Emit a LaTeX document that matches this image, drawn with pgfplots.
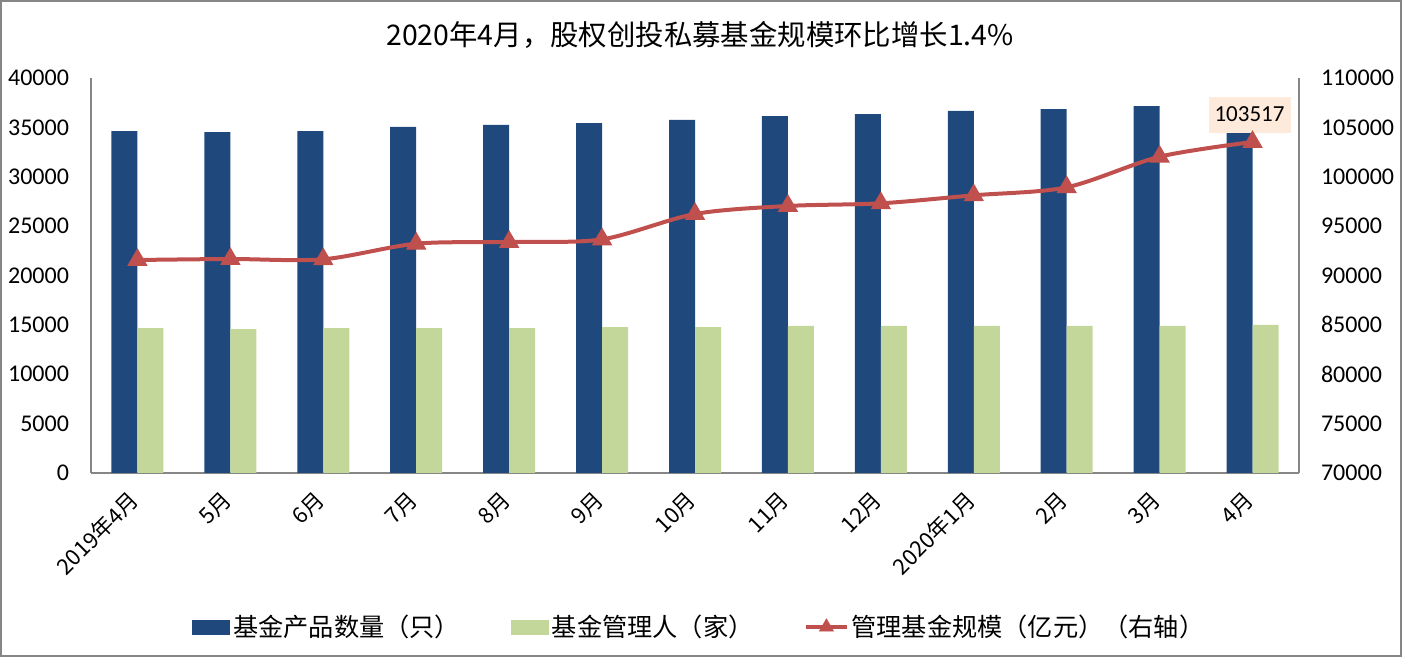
\documentclass[border=0pt]{standalone}
\usepackage{pgfplots}
\pgfplotsset{compat=1.18}
\usepackage{fontspec}
\setmainfont{Carlito}
\newfontfamily\cjk{Noto Sans CJK SC}
\definecolor{barblue}{RGB}{31,73,125}
\definecolor{bargreen}{RGB}{196,215,155}
\definecolor{linered}{RGB}{192,80,77}
\definecolor{peach}{RGB}{253,234,218}
\definecolor{axgray}{RGB}{134,134,134}

\pgfplotsset{
  base/.style={
    at={(45.5pt,92pt)}, anchor=south west, scale only axis,
    width=604pt, height=197.5pt,
    xmin=-0.5, xmax=12.5,
    major tick length=0pt,
    scaled ticks=false,
    axis line style={axgray, line width=0.75pt, -},
    yticklabel={\pgfmathprintnumber[fixed,precision=0,1000 sep={},assume math mode=true]{\tick}},
    yticklabel style={font=\fontsize{12}{14}\selectfont},
  },
  trilegend/.style={legend image code/.code={\draw[mark repeat=2, mark phase=2, ##1, mark size=4pt] plot coordinates {(0pt,0pt) (10pt,0pt) (20pt,0pt)};}},
}

\begin{document}
\begin{tikzpicture}
\useasboundingbox (0,0) rectangle (701pt,328.5pt);
\draw[axgray, line width=1.2pt] (0.6pt,0.6pt) rectangle (700.4pt,327.9pt);
\node[font=\cjk\fontsize{14.2}{16}\selectfont] at (350pt,311pt) {2020年4月，股权创投私募基金规模环比增长1.4\%};

\begin{axis}[base,
  ybar=0pt, bar width=13pt,
  ymin=0, ymax=40000,
  ytick={0,5000,...,40000},
  xtick={0,...,12},
  xticklabels={2019年4月,5月,6月,7月,8月,9月,10月,11月,12月,2020年1月,2月,3月,4月},
  xticklabel style={font=\cjk\fontsize{11}{13}\selectfont, yshift=-9pt, xshift=1pt, rotate=45, anchor=east},
  yticklabel style={xshift=-7.5pt},
  axis x line*=bottom, axis y line*=left,
]
\addplot[fill=barblue, draw=none] coordinates {
(0,34630) (1,34530) (2,34630) (3,35040) (4,35240) (5,35440) (6,35750)
(7,36150) (8,36350) (9,36660) (10,36860) (11,37160) (12,37400)};
\addplot[fill=bargreen, draw=none] coordinates {
(0,14680) (1,14580) (2,14680) (3,14680) (4,14680) (5,14780) (6,14780)
(7,14890) (8,14890) (9,14890) (10,14890) (11,14890) (12,14990)};
\end{axis}

\begin{axis}[base,
  ymin=70000, ymax=110000,
  ytick={70000,75000,...,110000},
  xtick=\empty,
  axis y line*=right, axis x line=none,
  yticklabel style={xshift=7.5pt},
  legend columns=3,
  legend style={at={(0.504,-0.39)}, anchor=center, draw=none, fill=none,
    font=\cjk\fontsize{12.6}{14}\selectfont,
    nodes={inner sep=1.5pt},
    /tikz/every even column/.append style={column sep=24pt}},
]
\addlegendimage{legend image code/.code={\fill[barblue] (0pt,-3.5pt) rectangle (18.5pt,3.5pt);}}
\addlegendentry{基金产品数量（只）}
\addlegendimage{legend image code/.code={\fill[bargreen] (0pt,-3.5pt) rectangle (18.5pt,3.5pt);}}
\addlegendentry{基金管理人（家）}
\addplot[linered, line width=2pt, smooth, tension=0.5, mark=triangle*, mark size=5.5pt,
  mark options={solid, line width=0.4pt}, trilegend]
coordinates {
(0,91570) (1,91670) (2,91640) (3,93220) (4,93390) (5,93660) (6,96230)
(7,97040) (8,97310) (9,98120) (10,98930) (11,102030) (12,103517)};
\addlegendentry{管理基金规模（亿元）（右轴）}
\node[fill=peach, font=\fontsize{11.5}{13}\selectfont, inner xsep=3pt, minimum height=18pt,
  anchor=south, yshift=4.5pt, xshift=-1.5pt] at (axis cs:12,103517) {103517};
\end{axis}
\end{tikzpicture}
\end{document}
